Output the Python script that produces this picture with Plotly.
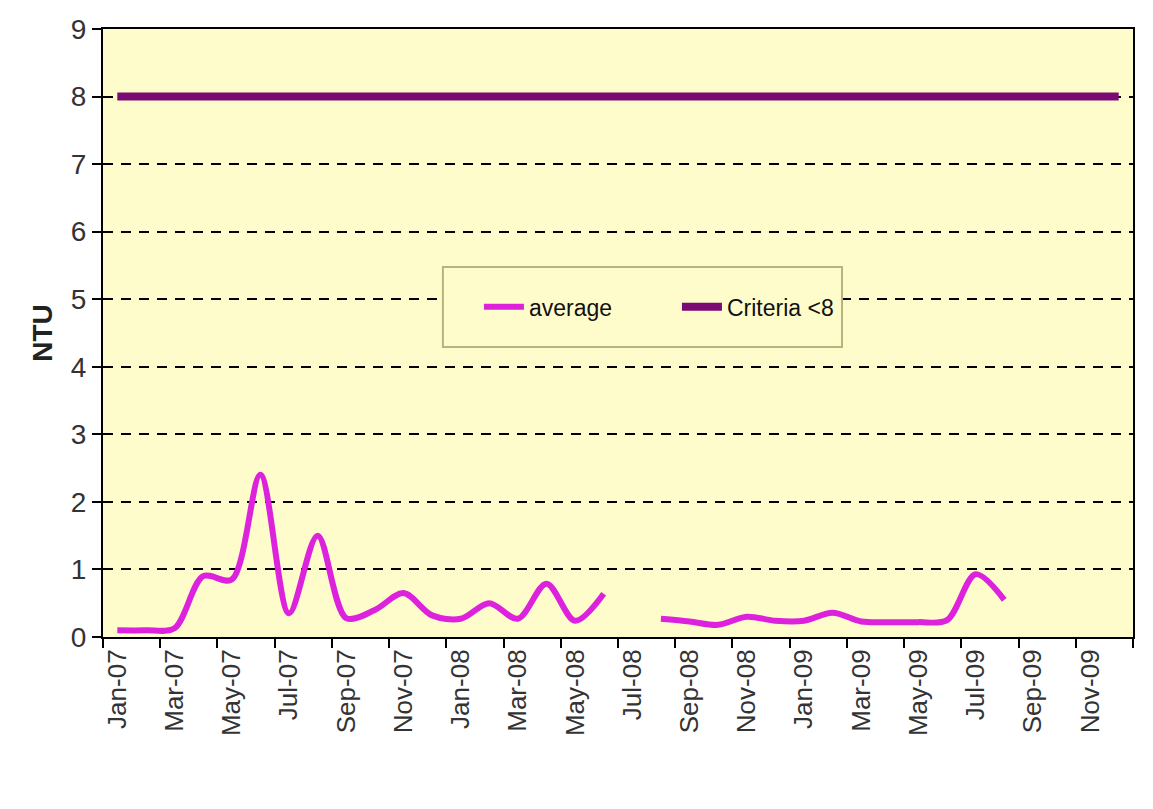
import plotly.graph_objects as go

# ---- data ----
months = [f"{m}-{y}" for y in ["07", "08", "09"]
          for m in ["Jan", "Feb", "Mar", "Apr", "May", "Jun",
                    "Jul", "Aug", "Sep", "Oct", "Nov", "Dec"]]
average = [0.10, 0.10, 0.13, 0.90, 0.85, 2.40, 0.35, 1.50, 0.28, 0.40, 0.65, 0.32,
           0.27, 0.50, 0.27, 0.79, 0.24, 0.64, None, 0.27, 0.23, 0.18, 0.30, 0.24,
           0.24, 0.36, 0.23, 0.22, 0.22, 0.25, 0.93, 0.55, None, None, None, None]
criteria = [8] * 36
label_months = months[::2]
y_ticks = list(range(0, 10))

idx = list(range(len(months)))
label_pos = [months.index(m) for m in label_months]
boundaries = [i - 0.5 for i in range(0, len(months) + 1, 2)]

BG = "#FFFCCB"

fig = go.Figure()
fig.add_trace(go.Scatter(x=idx, y=average, name="average", mode="lines",
                         line=dict(color="#DD22DD", width=6, shape="spline", smoothing=0.9),
                         connectgaps=False))
fig.add_trace(go.Scatter(x=idx, y=criteria, name="Criteria <8", mode="lines",
                         line=dict(color="#7B0A72", width=8)))

# page body has an 8px margin, so the figure is sized/offset to compensate
fig.update_layout(
    width=1145, height=801,
    paper_bgcolor="white", plot_bgcolor=BG,
    margin=dict(l=95, r=20, t=21, b=172, autoexpand=False),
    font=dict(family="Liberation Sans, Arial, sans-serif", color="#333333"),
    showlegend=True,
    legend=dict(orientation="h", x=0.365, y=0.543, xanchor="left", yanchor="middle",
                bgcolor="rgba(0,0,0,0)", borderwidth=0, entrywidth=143, itemwidth=40,
                font=dict(family="Liberation Sans Narrow, Arial Narrow, Liberation Sans, Arial",
                          size=23, color="#111111")),
    shapes=[dict(type="rect", xref="paper", yref="paper", x0=0.330, x1=0.7175,
                 y0=0.477, y1=0.6086, fillcolor=BG, line=dict(color="#B8B37C", width=2),
                 layer="above")],
)

fig.update_xaxes(
    range=[-0.5, len(months) - 0.5], tickmode="array", tickvals=label_pos, ticktext=label_months,
    tickangle=-90, ticks="", showgrid=False, zeroline=False,
    showline=True, linecolor="black", linewidth=2, mirror=True,
    tickfont=dict(size=26, color="#333333"),
    minor=dict(tickmode="array", tickvals=boundaries, ticks="outside", ticklen=9,
               tickwidth=2, tickcolor="black", showgrid=False),
)
fig.update_yaxes(
    range=[0, 9], tickmode="array", tickvals=y_ticks, ticks="outside", ticklen=9,
    tickwidth=2, tickcolor="black",
    showgrid=True, gridcolor="black", gridwidth=2, griddash="10px,8px", zeroline=False,
    showline=True, linecolor="black", linewidth=2, mirror=True,
    tickfont=dict(size=28, color="#333333"),
    title=dict(text="<b>NTU</b>", font=dict(size=28, color="#222222"), standoff=10),
)

fig.write_html("out.html")
